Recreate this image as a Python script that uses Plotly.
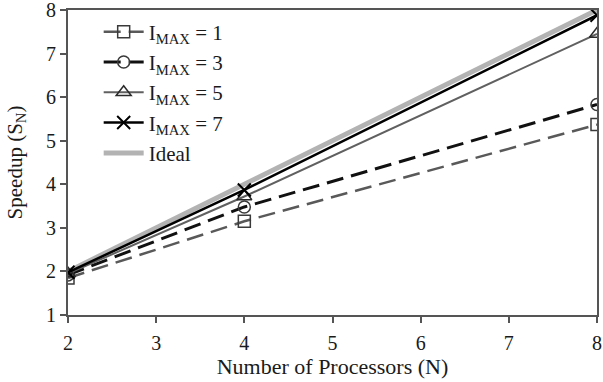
import plotly.graph_objects as go

processors = [2, 4, 8]
imax1 = [1.85, 3.15, 5.37]
imax3 = [1.92, 3.48, 5.83]
imax5 = [1.95, 3.72, 7.45]
imax7 = [1.98, 3.87, 7.88]
ideal = [2, 4, 8]

FONT = "Liberation Serif"
DASH = "17px,8px"

fig = go.Figure()
fig.add_trace(go.Scatter(x=processors, y=ideal, name="Ideal", mode="lines",
                         line=dict(color="#b3b3b3", width=5), showlegend=False))
fig.add_trace(go.Scatter(x=processors, y=imax1, name="I<sub>MAX</sub> = 1", mode="lines+markers",
                         line=dict(color="#595959", width=2.5, dash=DASH),
                         marker=dict(symbol="square-open", size=12, color="#3a3a3a", line=dict(width=1.5))))
fig.add_trace(go.Scatter(x=processors, y=imax3, name="I<sub>MAX</sub> = 3", mode="lines+markers",
                         line=dict(color="#111111", width=3, dash=DASH),
                         marker=dict(symbol="circle-open", size=12, color="#3a3a3a", line=dict(width=1.5))))
fig.add_trace(go.Scatter(x=processors, y=imax5, name="I<sub>MAX</sub> = 5", mode="lines+markers",
                         line=dict(color="#606060", width=2),
                         marker=dict(symbol="triangle-up-open", size=13, color="#2a2a2a", line=dict(width=1.5))))
fig.add_trace(go.Scatter(x=processors, y=imax7, name="I<sub>MAX</sub> = 7", mode="lines+markers",
                         line=dict(color="#000000", width=2.5),
                         marker=dict(symbol="x-thin-open", size=13, color="#000000", line=dict(width=2))))
# legend entry for ideal (ordered last)
fig.add_trace(go.Scatter(x=[None], y=[None], name="Ideal", mode="lines",
                         line=dict(color="#b3b3b3", width=5)))

axis_common = dict(showgrid=False, zeroline=False, showline=True, linecolor="#555555",
                   linewidth=2, mirror=True, ticks="outside", ticklen=6, tickcolor="#555555",
                   tickwidth=1.5, automargin=False, tickfont=dict(size=20),
                   ticklabeloverflow="allow")

fig.update_layout(
    width=603, height=382,
    margin=dict(l=68, r=6, t=10, b=67),
    paper_bgcolor="white", plot_bgcolor="white",
    font=dict(family=FONT, size=20, color="#1a1a1a"),
    legend=dict(x=0.058, y=0.995, xanchor="left", yanchor="top",
                bgcolor="rgba(255,255,255,0)", font=dict(size=21),
                tracegroupgap=0, itemwidth=40),
    xaxis=dict(range=[2, 8], tickvals=[2, 3, 4, 5, 6, 7, 8], ticklabelstandoff=3,
               title=dict(text="Number of Processors (N)", standoff=6, font=dict(size=22)),
               **axis_common),
    yaxis=dict(range=[1, 8], tickvals=[1, 2, 3, 4, 5, 6, 7, 8],
               title=dict(text="Speedup (S<sub>N</sub>)", standoff=18, font=dict(size=21)),
               **axis_common),
)

fig.write_html("out.html", config={"displayModeBar": False},
               post_script="document.body.style.margin='0px';")
